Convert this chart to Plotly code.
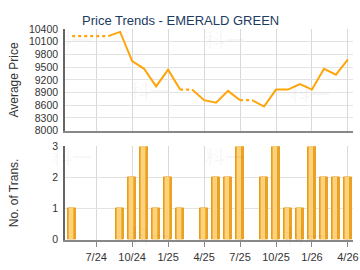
import plotly.graph_objects as go

months = ["5/24","6/24","7/24","8/24","9/24","10/24","11/24","12/24",
          "1/25","2/25","3/25","4/25","5/25","6/25","7/25","8/25",
          "9/25","10/25","11/25","12/25","1/26","2/26","3/26","4/26"]
prices = [10230,10230,10230,10230,10330,9640,9460,9045,
          9440,8970,8970,8720,8660,8940,8720,8720,
          8570,8970,8970,9100,8970,9460,9320,9680]
counts = [1,0,0,0,1,2,3,1,2,1,0,1,2,2,3,0,2,3,1,1,3,2,2,2]
tick_labels = ["7/24","10/24","1/25","4/25","7/25","10/25","1/26","4/26"]
price_ticks = [8000, 8300, 8600, 8900, 9200, 9500, 9800, 10100, 10400]
count_ticks = [0, 1, 2, 3]

idx = list(range(len(months)))
tick_idx = [months.index(t) for t in tick_labels]
bar_y = [c if c > 0 else None for c in counts]

LINE = "#FFA50A"
FAM = "Liberation Sans, Arial, sans-serif"
fig = go.Figure()

# line segments: solid if ending month has transactions, dotted otherwise
runs = []
for i in range(len(idx) - 1):
    kind = "solid" if counts[i + 1] > 0 else "dot"
    if runs and runs[-1][0] == kind and runs[-1][2] == i:
        runs[-1][2] = i + 1
    else:
        runs.append([kind, i, i + 1])
for kind, a, b in runs:
    fig.add_trace(go.Scatter(
        x=idx[a:b + 1], y=prices[a:b + 1], mode="lines",
        line=dict(color=LINE, width=2 if kind == "solid" else 2.2, dash=kind),
        xaxis="x", yaxis="y", showlegend=False, hoverinfo="skip"))

# bars with faux gradient
fig.add_trace(go.Bar(x=idx, y=bar_y, width=0.7, offset=-0.35,
                     marker=dict(color="#f3b23c", line=dict(color="#e99d17", width=1)),
                     xaxis="x2", yaxis="y2", showlegend=False))
fig.add_trace(go.Bar(x=idx, y=bar_y, width=0.3, offset=-0.25,
                     marker=dict(color="#fcd27f", line=dict(width=0)),
                     xaxis="x2", yaxis="y2", showlegend=False))
fig.add_trace(go.Bar(x=idx, y=bar_y, width=0.14, offset=0.16,
                     marker=dict(color="#eba224", line=dict(width=0)),
                     xaxis="x2", yaxis="y2", showlegend=False))

xr = [-0.6, 23.42]
grid = "#d9d9d9"
font = dict(family=FAM, size=11, color="#333333")
yfont = dict(family=FAM, size=10.5, color="#333333")

fig.update_layout(
    width=360, height=270,
    margin=dict(l=65, r=7, t=0, b=0),
    paper_bgcolor="white", plot_bgcolor="white",
    barmode="overlay", bargap=0,
    font=font,
    xaxis=dict(domain=[0, 1], range=xr, tickvals=tick_idx, ticktext=tick_labels,
               showticklabels=False, showgrid=True, gridcolor=grid, gridwidth=1,
               zeroline=False, showline=True, linecolor="#888888", linewidth=2,
               anchor="y"),
    yaxis=dict(domain=[1 - 130.5 / 270, 1 - 24 / 270], range=[8000, 10400],
               tickvals=price_ticks, ticktext=[str(v) for v in price_ticks],
               showgrid=True, gridcolor="#e3e3e3", zeroline=False, showline=True,
               linecolor="#666666", linewidth=1.5, ticks="", anchor="x",
               tickfont=yfont, ticklabelstandoff=3),
    xaxis2=dict(domain=[0, 1], range=xr, tickvals=tick_idx, ticktext=tick_labels,
                showgrid=True, gridcolor=grid, gridwidth=1, zeroline=False,
                showline=True, linecolor="#888888", linewidth=2,
                ticks="outside", ticklen=5, tickcolor="#888888",
                anchor="y2", tickfont=font, ticklabelstandoff=1),
    yaxis2=dict(domain=[1 - 244.5 / 270, 1 - 147 / 270], range=[0, 3],
                tickvals=count_ticks, ticktext=[str(v) for v in count_ticks],
                showgrid=True, gridcolor="#e3e3e3",
                zeroline=False, showline=True, linecolor="#666666", linewidth=1.5,
                ticks="", anchor="x2", tickfont=yfont, ticklabelstandoff=3),
)

def note(text, px, py, size, color, angle=0, family=FAM):
    fig.add_annotation(text=text, xref="paper", yref="paper",
                       x=(px - 65) / 288, y=1 - py / 270, showarrow=False,
                       xanchor="center", yanchor="middle", textangle=angle,
                       font=dict(family=family, size=size, color=color))

# faint watermarks
for px, py in [(72, 35), (225, 35), (150, 88), (310, 92), (72, 157), (225, 157), (150, 240), (305, 240)]:
    note("科一", px, py, 20, "rgba(0,0,0,0.045)", family="Noto Sans CJK SC")

note("Price Trends - EMERALD GREEN", 180, 15, 13, "#1d3b5e")
note("Average Price", 14, 78, 12, "#333333", angle=-90)
note("No. of Trans.", 14, 196, 12, "#333333", angle=-90)

fig.write_html("out.html")
